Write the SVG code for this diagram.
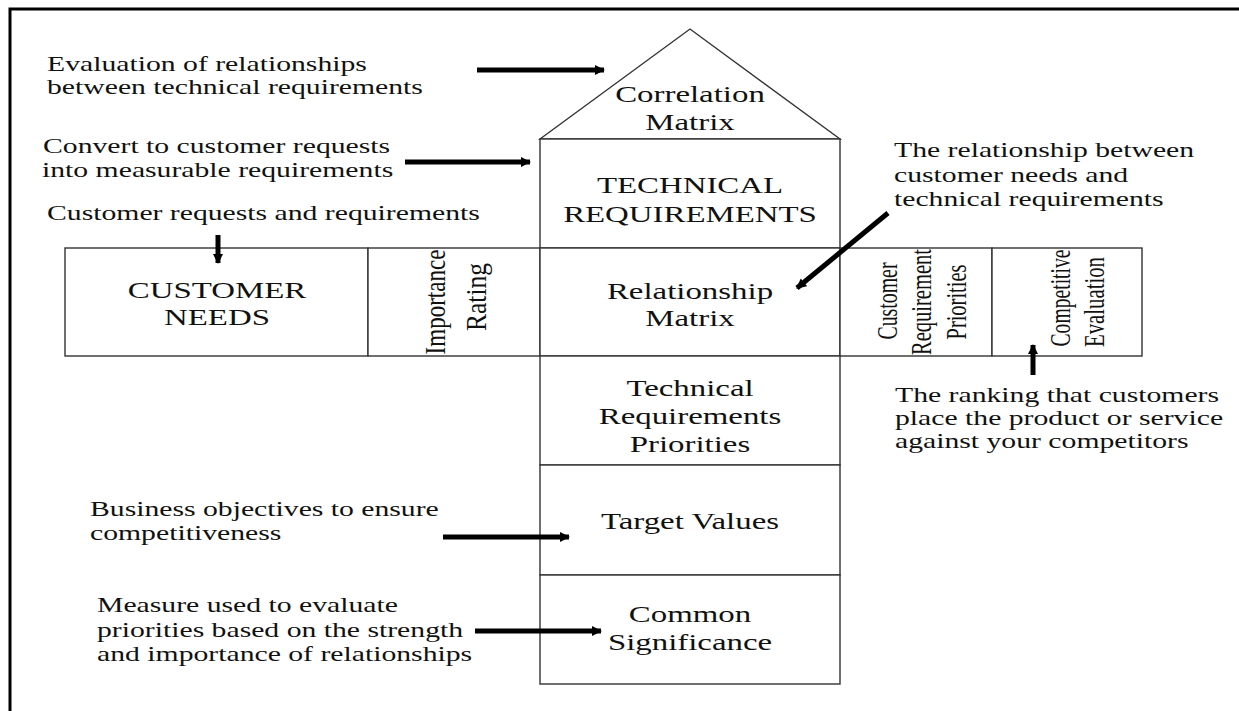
<svg xmlns="http://www.w3.org/2000/svg" width="1239" height="711" viewBox="0 0 1239 711">
<defs>
<marker id="ah" viewBox="0 0 10 10" refX="9" refY="5" markerWidth="2" markerHeight="2.4" orient="auto" markerUnits="strokeWidth">
<path d="M0,0 L10,5 L0,10 z" fill="#000"/>
</marker>
<style>
.box{fill:#fff;stroke:#333;stroke-width:1.4}
.a{font-family:"Liberation Serif","Times New Roman",serif;font-size:22px;fill:#111}
.b{font-family:"Liberation Serif","Times New Roman",serif;font-size:24px;fill:#111;text-anchor:middle}
.r{font-family:"Liberation Serif","Times New Roman",serif;font-size:22px;fill:#111;text-anchor:middle}
.arr{stroke:#000;stroke-width:5;fill:none;marker-end:url(#ah)}
</style>
</defs>
<rect width="1239" height="711" fill="#fff"/>
<path d="M10,711 V9 H1239" fill="none" stroke="#000" stroke-width="3"/>

<g id="correlation-matrix">
<polygon class="box" points="540,139 690,29 840,139"/>
<text class="b" transform="translate(690,102) scale(1.37,1)">Correlation</text>
<text class="b" transform="translate(690,130) scale(1.37,1)">Matrix</text>
</g>
<g id="technical-requirements">
<rect class="box" x="540" y="139" width="300" height="109"/>
<text class="b" transform="translate(690,193) scale(1.37,1)">TECHNICAL</text>
<text class="b" transform="translate(690,222) scale(1.37,1)">REQUIREMENTS</text>
</g>
<g id="customer-needs">
<rect class="box" x="65" y="248" width="303" height="108"/>
<text class="b" transform="translate(217,298) scale(1.37,1)">CUSTOMER</text>
<text class="b" transform="translate(217,325) scale(1.37,1)">NEEDS</text>
</g>
<g id="importance-rating">
<rect class="box" x="368" y="248" width="172" height="108"/>
<g transform="translate(445,302) scale(1.37,1)"><text class="r" transform="rotate(-90)" textLength="105" lengthAdjust="spacingAndGlyphs">Importance</text></g>
<g transform="translate(486,297) scale(1.37,1)"><text class="r" transform="rotate(-90)" textLength="68" lengthAdjust="spacingAndGlyphs">Rating</text></g>
</g>
<g id="relationship-matrix">
<rect class="box" x="540" y="248" width="300" height="108"/>
<text class="b" transform="translate(690,299) scale(1.37,1)">Relationship</text>
<text class="b" transform="translate(690,326) scale(1.37,1)">Matrix</text>
</g>
<g id="customer-requirement-priorities">
<rect class="box" x="840" y="248" width="152" height="108"/>
<g transform="translate(897,301) scale(1.37,1)"><text class="r" transform="rotate(-90)" textLength="77" lengthAdjust="spacingAndGlyphs">Customer</text></g>
<g transform="translate(931,302) scale(1.37,1)"><text class="r" transform="rotate(-90)" textLength="106" lengthAdjust="spacingAndGlyphs">Requirement</text></g>
<g transform="translate(966,302) scale(1.37,1)"><text class="r" transform="rotate(-90)" textLength="75" lengthAdjust="spacingAndGlyphs">Priorities</text></g>
</g>
<g id="competitive-evaluation">
<rect class="box" x="992" y="248" width="150" height="108"/>
<g transform="translate(1070,298) scale(1.37,1)"><text class="r" transform="rotate(-90)" textLength="97" lengthAdjust="spacingAndGlyphs">Competitive</text></g>
<g transform="translate(1104,302) scale(1.37,1)"><text class="r" transform="rotate(-90)" textLength="90" lengthAdjust="spacingAndGlyphs">Evaluation</text></g>
</g>
<g id="technical-requirements-priorities">
<rect class="box" x="540" y="356" width="300" height="109"/>
<text class="b" transform="translate(690,396) scale(1.37,1)">Technical</text>
<text class="b" transform="translate(690,424) scale(1.37,1)">Requirements</text>
<text class="b" transform="translate(690,452) scale(1.37,1)">Priorities</text>
</g>
<g id="target-values">
<rect class="box" x="540" y="465" width="300" height="110"/>
<text class="b" transform="translate(690,529) scale(1.37,1)">Target Values</text>
</g>
<g id="common-significance">
<rect class="box" x="540" y="575" width="300" height="109"/>
<text class="b" transform="translate(690,622) scale(1.37,1)">Common</text>
<text class="b" transform="translate(690,650) scale(1.37,1)">Significance</text>
</g>

<g id="annotations">
<text class="a" transform="translate(47,71) scale(1.35,1)">Evaluation of relationships</text>
<text class="a" transform="translate(47,94) scale(1.35,1)">between technical requirements</text>
<text class="a" transform="translate(43,153) scale(1.35,1)">Convert to customer requests</text>
<text class="a" transform="translate(42,177) scale(1.35,1)">into measurable requirements</text>
<text class="a" transform="translate(47,220) scale(1.35,1)">Customer requests and requirements</text>
<text class="a" transform="translate(894,157) scale(1.35,1)">The relationship between</text>
<text class="a" transform="translate(894,182) scale(1.35,1)">customer needs and</text>
<text class="a" transform="translate(894,206) scale(1.35,1)">technical requirements</text>
<text class="a" transform="translate(895,402) scale(1.35,1)">The ranking that customers</text>
<text class="a" transform="translate(895,425) scale(1.35,1)">place the product or service</text>
<text class="a" transform="translate(895,448) scale(1.35,1)">against your competitors</text>
<text class="a" transform="translate(90,516) scale(1.35,1)">Business objectives to ensure</text>
<text class="a" transform="translate(90,540) scale(1.35,1)">competitiveness</text>
<text class="a" transform="translate(97,612) scale(1.35,1)">Measure used to evaluate</text>
<text class="a" transform="translate(97,637) scale(1.35,1)">priorities based on the strength</text>
<text class="a" transform="translate(97,661) scale(1.35,1)">and importance of relationships</text>
</g>

<g id="connectors">
<line class="arr" x1="477" y1="70" x2="604" y2="70"/>
<line class="arr" x1="405" y1="162" x2="530" y2="162"/>
<line class="arr" x1="218" y1="235" x2="218" y2="263"/>
<line class="arr" x1="888" y1="213" x2="797" y2="288"/>
<line class="arr" x1="1033" y1="375" x2="1033" y2="345"/>
<line class="arr" x1="443" y1="537" x2="569" y2="537"/>
<line class="arr" x1="475" y1="631" x2="601" y2="631"/>
</g>
</svg>
